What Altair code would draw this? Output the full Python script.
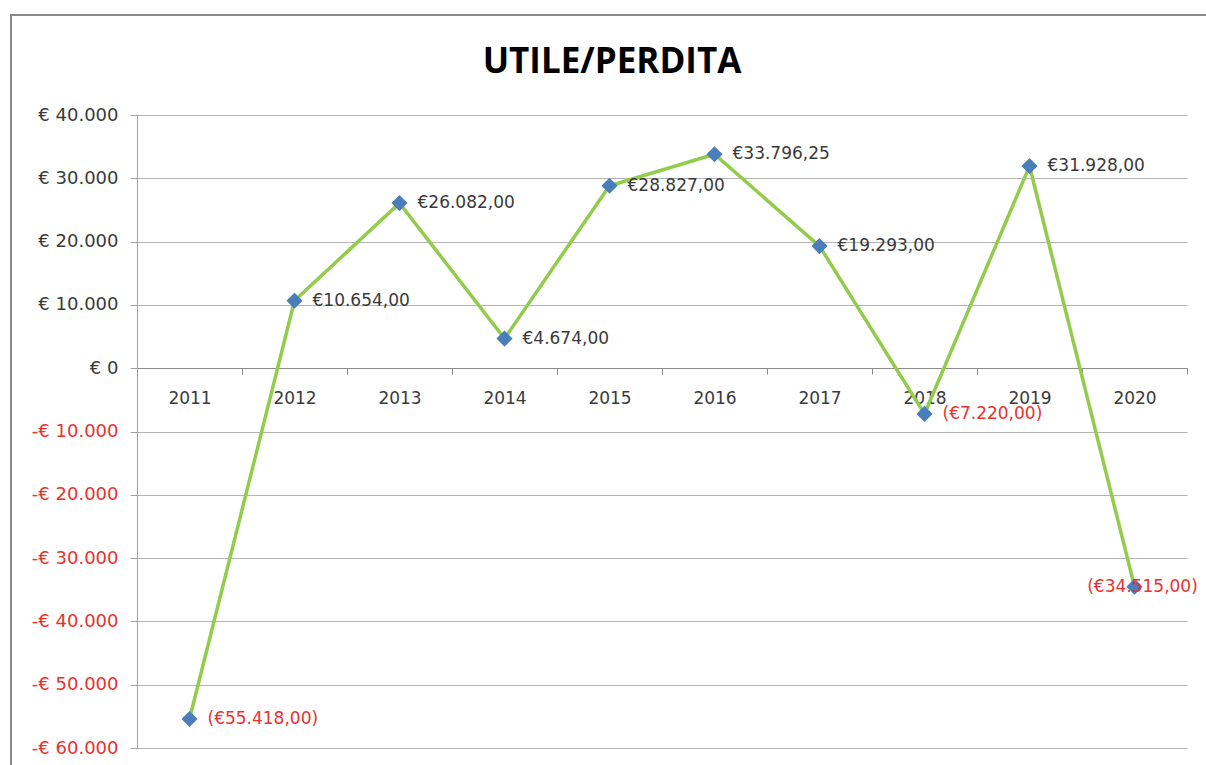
import altair as alt
import pandas as pd

years = ["2011", "2012", "2013", "2014", "2015", "2016", "2017", "2018", "2019", "2020"]
values = [-55418.00, 10654.00, 26082.00, 4674.00, 28827.00, 33796.25, 19293.00, -7220.00, 31928.00, -34515.00]
y_ticks = [-60000, -50000, -40000, -30000, -20000, -10000, 0, 10000, 20000, 30000, 40000]


def fmt(v):
    s = f"{abs(v):,.2f}".replace(",", "X").replace(".", ",").replace("X", ".")
    return f"€{s}" if v >= 0 else f"(€{s})"


df = pd.DataFrame({"year": years, "value": values, "label": [fmt(v) for v in values]})

FONT = "DejaVu Sans"
TFONT = "Open Sans"
RED = "#E8322F"
DARK = "#3A3A3A"
GREEN = "#92CC4A"
BLUE = "#4A7EBB"

x_enc = alt.X(
    "year:N",
    sort=years,
    title=None,
    scale=alt.Scale(type="band", paddingInner=0, paddingOuter=0),
    axis=alt.Axis(
        offset=-380,
        tickBand="extent",
        labelAngle=0,
        grid=False,
        domainColor="#8c8c8c",
        domainWidth=1.2,
        tickColor="#8c8c8c",
        tickSize=6,
        labelPadding=16,
        labelFontSize=17,
        labelFont=FONT,
        labelColor=DARK,
    ),
)
y_enc = alt.Y(
    "value:Q",
    title=None,
    scale=alt.Scale(domain=[-60000, 40000], nice=False, zero=False),
    axis=alt.Axis(
        values=y_ticks,
        labelExpr="(datum.value < 0 ? '-€ ' : '€ ') + replace(format(abs(datum.value), ','), ',', '.')",
        labelColor={"expr": "datum.value < 0 ? '%s' : '%s'" % (RED, DARK)},
        labelFontSize=18,
        labelFont=FONT,
        labelPadding=12,
        tickSize=7,
        tickColor="#a0a0a0",
        domainColor="#a0a0a0",
        gridColor="#b4b4b4",
        gridWidth=1,
    ),
)

base = alt.Chart(df)

frame = base.mark_rect(fill="transparent", stroke="#8a8a8a", strokeWidth=1.5).encode(
    x=alt.value(-126), x2=alt.value(1072), y=alt.value(-100), y2=alt.value(700)
)

line = base.mark_line(color=GREEN, strokeWidth=3.5).encode(x=x_enc, y=y_enc)
points = base.mark_point(shape="diamond", filled=True, size=260, color=BLUE, opacity=1).encode(
    x=x_enc, y=y_enc
)

label_color = alt.condition("datum.value < 0", alt.value(RED), alt.value(DARK))

labels = (
    base.transform_filter("datum.year != '2020'")
    .mark_text(align="left", baseline="middle", dx=18, fontSize=17, font=FONT)
    .encode(x=x_enc, y=y_enc, text="label:N", color=label_color)
)
labels_center = (
    base.transform_filter("datum.year == '2020'")
    .mark_text(align="center", baseline="middle", dx=8, fontSize=17, font=FONT)
    .encode(x=x_enc, y=y_enc, text="label:N", color=label_color)
)

chart = (
    alt.layer(frame, line, points, labels, labels_center)
    .properties(
        width=1050,
        height=633,
        title=alt.TitleParams(
            "UTILE/PERDITA",
            font=TFONT,
            fontSize=35,
            fontWeight="bold",
            color="#000000",
            anchor="middle",
            frame="group",
            baseline="alphabetic",
            dx=-50,
            offset=-94,
        ),
        autosize=alt.AutoSizeParams(type="none"),
        padding={"left": 137, "top": 115, "right": 19, "bottom": 17},
        background="white",
    )
    .configure_view(stroke="transparent")
)

chart.save("out.html", embed_options={"renderer": "svg", "actions": False})
